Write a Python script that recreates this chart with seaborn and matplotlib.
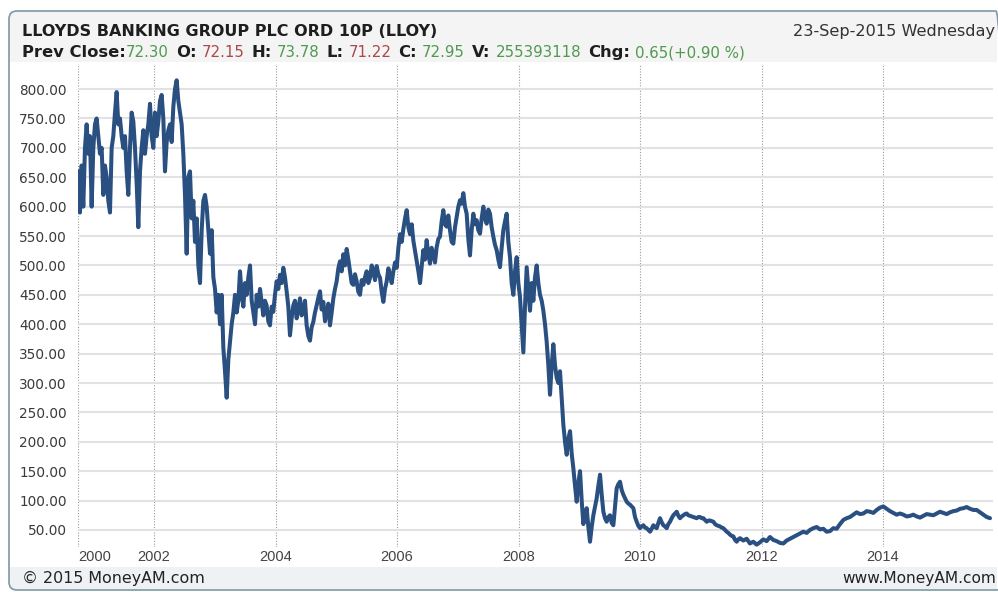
import numpy as np
import pandas as pd
import seaborn as sns
import matplotlib.pyplot as plt
from matplotlib.patches import FancyBboxPatch, Rectangle
from matplotlib.transforms import IdentityTransform

# ----------------------------------------------------
# 1. Price data (pence) in five stretches
# ----------------------------------------------------
span_2000_2003 = (2000.754, 2003.745)
prices_2000_2003 = [
    660, 590, 670, 600, 700, 740, 690, 720, 600, 700,
    740, 750, 720, 690, 700, 620, 670, 650, 610, 590,
    700, 720, 760, 795, 740, 750, 720, 700, 720, 660,
    620, 700, 760, 745, 700, 640, 565, 660, 700, 730,
    690, 720, 740, 775, 720, 700, 760, 720, 745, 780,
    790, 750, 660, 710, 730, 740, 710, 770, 800, 815,
    780, 760, 740, 690, 620, 520, 650, 660, 580, 610,
    540, 580, 500, 470, 560, 610, 620, 600, 560, 520,
    560, 480, 460, 420, 450, 400, 450, 360, 320, 275,
    340, 370, 400, 420, 450, 420, 440, 490, 450, 430,
    470, 450, 480, 500, 440, 420, 400, 450, 430, 460,
]

span_2003_2006 = (2003.799, 2006.379)
prices_2003_2006 = [
    415, 440, 432, 405, 398, 430, 421, 450, 473, 460,
    484, 470, 496, 480, 456, 430, 381, 410, 432, 440,
    410, 425, 444, 415, 421, 440, 398, 380, 372, 395,
    404, 420, 432, 445, 456, 425, 438, 405, 421, 435,
    398, 420, 444, 460, 473, 495, 507, 490, 519, 500,
    528, 510, 490, 470, 467, 485, 473, 455, 450, 475,
    467, 480, 490, 470, 479, 500, 490, 475, 499, 485,
    479, 455, 438, 460, 473, 495, 484, 470, 490, 505,
    496, 530, 553, 540, 562, 580, 594, 565, 553, 570,
    542, 525, 507, 490, 470,
]

span_2006_2008 = (2006.433, 2008.683)
prices_2006_2008 = [
    526, 510, 543, 520, 503, 530, 520, 505, 531, 545,
    549, 575, 594, 570, 566, 585, 560, 540, 537, 565,
    583, 600, 611, 605, 623, 600, 588, 545, 517, 560,
    588, 570, 577, 560, 554, 580, 600, 580, 571, 595,
    588, 565, 549, 535, 526, 510, 497, 530, 560, 575,
    588, 540, 514, 470, 450, 490, 514, 470, 446, 400,
    352, 430, 497, 460, 423, 470, 440, 480, 500, 470,
    450, 440, 423, 400, 370, 330, 280, 330, 366, 330,
    309, 300, 320,
]

span_2008_2011 = (2008.738, 2011.646)
prices_2008_2011 = [
    229, 200, 178, 205, 218, 180, 155, 125, 98, 130,
    150, 100, 60, 75, 87, 55, 30, 55, 75, 90,
    104, 125, 144, 110, 81, 70, 64, 72, 75, 62,
    58, 90, 121, 128, 132, 118, 110, 104, 98, 95,
    93, 90, 87, 72, 64, 57, 53, 56, 58, 54,
    53, 50, 47, 52, 58, 55, 53, 62, 70, 63,
    58, 56, 53, 60, 64, 70, 75, 78, 81, 74,
    70, 73, 75, 77, 78, 75, 74, 73, 72, 71,
    70, 72, 72, 70, 70, 67, 64, 66, 66, 65,
    64, 60, 58, 57, 56, 54, 53, 50, 47, 45,
    42, 40, 39, 33, 30, 34, 36,
]

span_2011_2015 = (2011.700, 2015.761)
prices_2011_2015 = [
    32, 35, 27, 30, 25, 29, 34, 31, 38, 33,
    31, 28, 27, 32, 35, 38, 41, 44, 47, 45,
    50, 53, 55, 51, 52, 47, 48, 53, 52, 60,
    67, 70, 72, 76, 80, 77, 78, 82, 81, 79,
    84, 88, 90, 86, 82, 79, 76, 78, 76, 73,
    74, 76, 73, 71, 74, 77, 76, 75, 78, 81,
    79, 77, 80, 82, 83, 86, 87, 89, 86, 84,
    84, 80, 76, 72, 70,
]

year_ticks = [2002, 2004, 2006, 2008, 2010, 2012, 2014]
price_ticks = list(range(50, 801, 50))

segments = [
    (span_2000_2003, prices_2000_2003),
    (span_2003_2006, prices_2003_2006),
    (span_2006_2008, prices_2006_2008),
    (span_2008_2011, prices_2008_2011),
    (span_2011_2015, prices_2011_2015),
]
years = np.concatenate([np.linspace(s[0], s[1], len(v)) for s, v in segments])
prices = np.concatenate([v for _, v in segments])
df = pd.DataFrame({"year": years, "price": prices})

# ----------------------------------------------------
# 2. Figure
# ----------------------------------------------------
sns.set_style("white")
plt.rcParams["font.family"] = ["DejaVu Sans"]

W, H = 998, 592
fig = plt.figure(figsize=(W / 100, H / 100), dpi=100)
fig.patch.set_facecolor("white")

# frame, header and footer bands (pixel coords, y from the top)
def px_rect(x0, y0, x1, y1, **kw):
    return Rectangle((x0, H - y1), x1 - x0, y1 - y0, transform=IdentityTransform(), **kw)

fig.patches.append(px_rect(9, 11, 997, 62, facecolor="#f4f4f4", edgecolor="none", zorder=0))
fig.patches.append(px_rect(9, 567, 997, 589, facecolor="#eef2f4", edgecolor="none", zorder=0))
fig.patches.append(FancyBboxPatch((9, H - 590), 995, 579, boxstyle="round,pad=0,rounding_size=8",
                                  transform=IdentityTransform(), facecolor="none",
                                  edgecolor="#7f97a6", linewidth=1.2, zorder=1))

ax = fig.add_axes([78 / W, 1 - 547 / H, (993 - 78) / W, (547 - 65) / H])
ax.set_facecolor("white")

sns.lineplot(data=df, x="year", y="price", color="#2a5082", linewidth=2.9, ax=ax,
             estimator=None, sort=False)

ax.set_xlim(2000.749, 2015.81)
ax.set_ylim(21, 841)
ax.set_xticks([2000.749] + year_ticks)
ax.set_xticklabels(["2000"] + [str(y) for y in year_ticks], family="Liberation Sans",
                   fontsize=10.5, color="#444444")
ax.get_xticklabels()[0].set_horizontalalignment("left")
ax.set_yticks(price_ticks)
ax.set_yticklabels([f"{v:.2f}" for v in price_ticks], fontsize=9.8, color="#3a3a3a")
ax.tick_params(axis="x", length=0, pad=2)
ax.tick_params(axis="y", length=0, pad=8)
ax.set_xlabel("")
ax.set_ylabel("")
for s in ax.spines.values():
    s.set_visible(False)
ax.grid(axis="y", color="#e2e2e2", linewidth=1.5, linestyle="-")
ax.grid(axis="x", color="#9a9a9a", linewidth=0.8, linestyle=(0, (1, 1.5)))
ax.set_axisbelow(True)

# ----------------------------------------------------
# 3. Header and footer text
# ----------------------------------------------------
def px_text(x, y, s, **kw):
    return fig.text(x, H - y, s, transform=IdentityTransform(), **kw)

px_text(22, 36, "LLOYDS BANKING GROUP PLC ORD 10P (LLOY)", fontsize=11.5, fontweight="bold",
        color="#1e1e1e", va="baseline")
px_text(793, 36, "23-Sep-2015 Wednesday", fontsize=11.6, color="#333333", va="baseline")

GREEN, RED, DARK = "#4f9a4f", "#a84a4a", "#1e1e1e"
runs = [
    ("Prev Close:", "bold", DARK, 0), ("72.30", "normal", GREEN, 7),
    ("O:", "bold", DARK, 5), ("72.15", "normal", RED, 7),
    ("H:", "bold", DARK, 5), ("73.78", "normal", GREEN, 7),
    ("L:", "bold", DARK, 5), ("71.22", "normal", RED, 7),
    ("C:", "bold", DARK, 5), ("72.95", "normal", GREEN, 7),
    ("V:", "bold", DARK, 5), ("255393118", "normal", GREEN, 7),
    ("Chg:", "bold", DARK, 5), ("0.65(+0.90 %)", "normal", GREEN, 0),
]
renderer = fig.canvas.get_renderer()
x = 22
for text, weight, color, gap in runs:
    size = 11.8 if weight == "bold" else 10.8
    t = px_text(x, 57, text, fontsize=size, fontweight=weight, color=color, va="baseline")
    x += t.get_window_extent(renderer=renderer).width + gap

px_text(22, 583, "\u00a9 2015 MoneyAM.com", fontsize=11.4, color="#222222", va="baseline")
px_text(996, 583, "www.MoneyAM.com", fontsize=11.1, color="#222222", va="baseline", ha="right")

fig.savefig("out.png", dpi=100)
plt.close(fig)
